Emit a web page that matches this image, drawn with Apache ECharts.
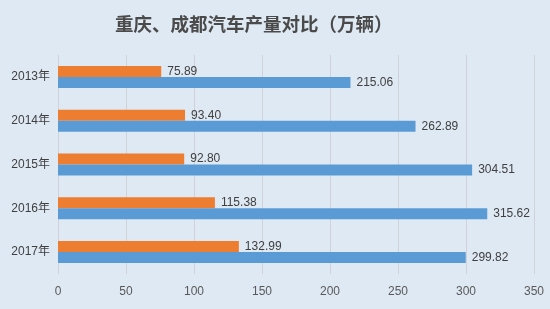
<!DOCTYPE html>
<html><head><meta charset="utf-8">
<script src="https://cdn.jsdelivr.net/npm/echarts@6/dist/echarts.min.js"></script>
<style>html,body{margin:0;padding:0;background:#dfe9f3}#c{width:550px;height:309px}</style>
</head><body><div id="c"></div>
<script>
const categories = ['2013年','2014年','2015年','2016年','2017年'];
const chengdu = [75.89, 93.40, 92.80, 115.38, 132.99];
const chongqing = [215.06, 262.89, 304.51, 315.62, 299.82];
const xTicks = [0, 350, 50];

const chart = echarts.init(document.getElementById('c'));
const lbl = {show:true, position:'right', distance:6, color:'#404040', fontSize:12, fontFamily:'Liberation Sans, Arial, sans-serif',
  formatter: p => p.value.toFixed(2)};
chart.setOption({
  backgroundColor:'#dfe9f3',
  animation:false,
  title:{text:'重庆、成都汽车产量对比（万辆）', left:110, top:10,
    textStyle:{fontFamily:'Noto Sans CJK SC', fontSize:18.5, fontWeight:'bold', color:'#4a4a4a'}},
  grid:{left:58, right:16, top:55, bottom:35, containLabel:false},
  xAxis:{type:'value', min:xTicks[0], max:xTicks[1], interval:xTicks[2],
    axisLine:{show:false}, axisTick:{show:false},
    axisLabel:{color:'#595959', fontSize:12, margin:12, fontFamily:'Liberation Sans, Arial, sans-serif'},
    splitLine:{lineStyle:{color:'#cdd3d9', width:1}}},
  yAxis:{type:'category', data:categories, inverse:true,
    axisLine:{show:false}, axisTick:{show:false},
    axisLabel:{color:'#404040', fontSize:12, margin:8, fontFamily:'Liberation Sans, Noto Sans CJK SC, sans-serif'}},
  series:[
    {name:'成都', type:'bar', data:chengdu, barWidth:11, barGap:'0%', itemStyle:{color:'#ED7D31'}, label:lbl},
    {name:'重庆', type:'bar', data:chongqing, barWidth:11, barGap:'0%', itemStyle:{color:'#5B9BD5'}, label:lbl}
  ]
});
</script></body></html>
